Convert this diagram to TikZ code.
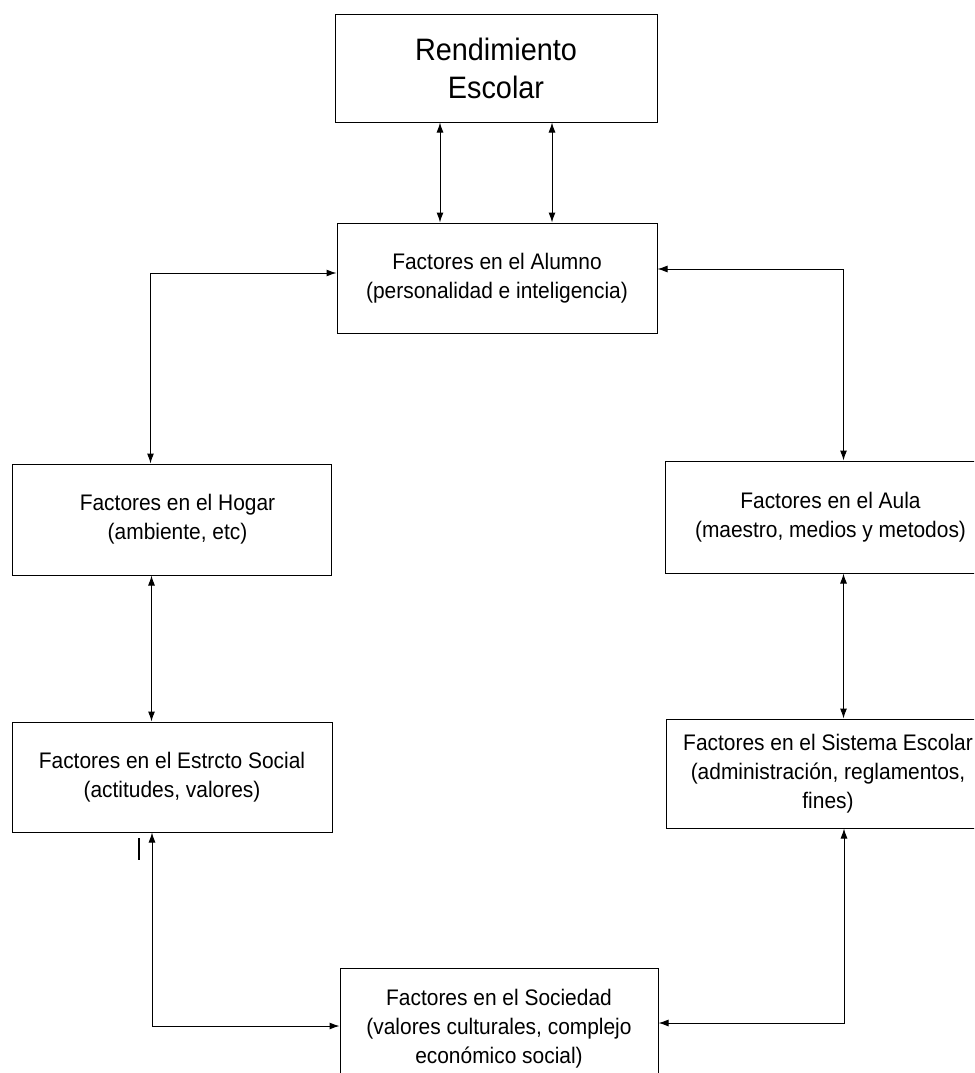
\documentclass[tikz,border=0pt]{standalone}
\usepackage{fontspec}
\setmainfont[FakeStretch=0.93]{Liberation Sans}
\usetikzlibrary{arrows.meta}
\tikzset{
  box/.style={draw, line width=1pt, inner sep=0pt, align=center,
    font=\fontsize{22.5}{29}\selectfont},
  conn/.style={line width=1pt, {Latex[length=10pt,width=7pt]}-{Latex[length=10pt,width=7pt]}},
}
\begin{document}
\begin{tikzpicture}[x=1pt,y=-1pt]
\clip (0,0) rectangle (974,1073);
\fill[white] (0,0) rectangle (974,1073);
% boxes
\node[box, minimum width=322pt, minimum height=107pt, font=\fontsize{31}{38}\selectfont] (rend) at (496,68.5) {Rendimiento\\Escolar};
\node[box, minimum width=320pt, minimum height=110pt] (alum) at (497,278) {Factores en el Alumno\\(personalidad e inteligencia)};
\node[box, minimum width=319pt, minimum height=111pt] (hogar) at (171.5,519.5) {\hspace*{12pt}Factores en el Hogar\\\hspace*{12pt}(ambiente, etc)};
\node[box, minimum width=325pt, minimum height=112pt] (aula) at (827.5,517) {\hspace*{6pt}Factores en el Aula\\\hspace*{6pt}(maestro, medios y metodos)};
\node[box, minimum width=320pt, minimum height=110pt] (estr) at (172,777) {Factores en el Estrcto Social\\(actitudes, valores)};
\node[box, minimum width=324pt, minimum height=109pt] (sist) at (828,773.5) {Factores en el Sistema Escolar\\(administración, reglamentos,\\fines)};
\node[box, minimum width=318pt, minimum height=122pt] (soc) at (499,1029) {Factores en el Sociedad\\(valores culturales, complejo\\económico social)};
% connectors
\draw[conn] ([xshift=-56pt]rend.south) -- ([xshift=-56pt]rend.south |- alum.north);
\draw[conn] ([xshift=56pt]rend.south) -- ([xshift=56pt]rend.south |- alum.north);
\draw[conn] ([xshift=-21pt]hogar.north) |- ([yshift=5pt]alum.west);
\draw[conn] ([yshift=9pt]alum.east) -| ([xshift=16pt]aula.north);
\draw[conn] ([xshift=-20pt]hogar.south) -- ([xshift=-20pt]hogar.south |- estr.north);
\draw[conn] ([xshift=16pt]aula.south) -- ([xshift=16pt]aula.south |- sist.north);
\draw[conn] ([xshift=-20pt]estr.south) |- ([yshift=3pt]soc.west);
\draw[conn] ([xshift=16pt]sist.south) |- ([yshift=6pt]soc.east);
% stray mark
\draw[line width=1.5pt] (139,838) -- (139,860);
\end{tikzpicture}
\end{document}
